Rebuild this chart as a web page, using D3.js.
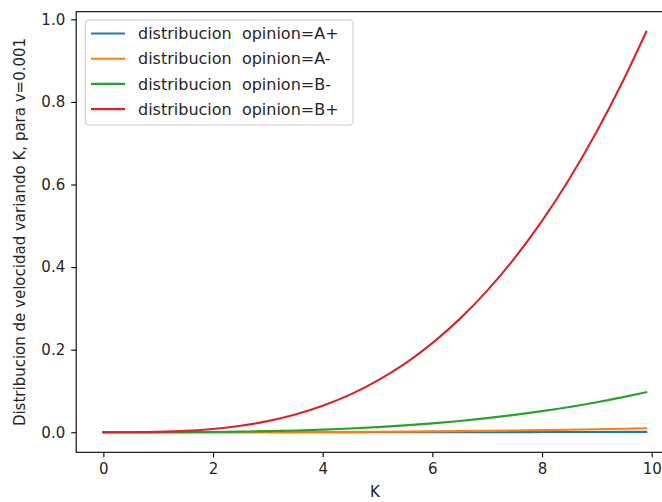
<!DOCTYPE html>
<html>
<head>
<meta charset="utf-8">
<script src="https://cdn.jsdelivr.net/npm/d3@7"></script>
<style>
  html, body { margin: 0; padding: 0; background: #fff; }
  svg { display: block; }
  text { font-family: "DejaVu Sans", sans-serif; fill: #262626; white-space: pre; }
</style>
</head>
<body>
<svg id="chart" width="662" height="502"></svg>
<script>
// K values where each distribution was sampled
const kValues = [0, 0.5, 1, 1.5, 2, 2.5, 3, 3.5, 4, 4.5, 5, 5.5, 6, 6.5, 7, 7.5, 8, 8.5, 9, 9.5, 9.9];

// Distribution values per opinion
const opinionAPlus = [0, 0, 0.000001, 0.000003, 0.000008, 0.000016, 0.000027, 0.000043, 0.000064, 0.000091, 0.000125,
  0.000166, 0.000216, 0.000275, 0.000343, 0.000422, 0.000512, 0.000614, 0.000729, 0.000857, 0.00097];
const opinionAMinus = [0, 0.000001, 0.00001, 0.000034, 0.00008, 0.000156, 0.00027, 0.000429, 0.00064, 0.000911, 0.00125,
  0.00166, 0.00216, 0.002746, 0.00343, 0.004219, 0.00512, 0.006141, 0.00729, 0.008574, 0.0097];
const opinionBMinus = [0, 0.00001, 0.0001, 0.00034, 0.0008, 0.00156, 0.0027, 0.00429, 0.0064, 0.00911, 0.0125,
  0.0166, 0.0216, 0.02746, 0.0343, 0.04219, 0.0512, 0.06141, 0.0729, 0.08574, 0.097];
const opinionBPlus = [0, 0.0001, 0.001, 0.0034, 0.008, 0.0156, 0.027, 0.0429, 0.064, 0.0911, 0.125,
  0.166, 0.216, 0.2746, 0.343, 0.4219, 0.512, 0.6141, 0.729, 0.8574, 0.970];

const seriesNames = ["distribucion  opinion=A+", "distribucion  opinion=A-", "distribucion  opinion=B-", "distribucion  opinion=B+"];
const seriesValues = [opinionAPlus, opinionAMinus, opinionBMinus, opinionBPlus];
const seriesColors = ["#1f77b4", "#ff7f0e", "#2ca02c", "#d62728"];

const xTicks = [0, 2, 4, 6, 8, 10];
const yTicks = [0.0, 0.2, 0.4, 0.6, 0.8, 1.0];

const svg = d3.select("#chart");

// Plot area (right edge extends past the canvas)
const plotLeft = 76.2, plotRight = 673.4, plotTop = 11.7, plotBottom = 452.3;

const x = d3.scaleLinear().domain([-0.495, 10.395]).range([plotLeft, plotRight]);
const y = d3.scaleLinear().domain([-0.0485, 1.0185]).range([plotBottom, plotTop]);

// Series lines
const line = d3.line()
  .x(d => x(d[0]))
  .y(d => y(d[1]))
  .curve(d3.curveMonotoneX);

const plot = svg.append("g");
seriesValues.forEach((vals, i) => {
  plot.append("path")
    .datum(kValues.map((k, j) => [k, vals[j]]))
    .attr("fill", "none")
    .attr("stroke", seriesColors[i])
    .attr("stroke-width", 2.1)
    .attr("stroke-linecap", "square")
    .attr("d", line);
});

// Axes
const xAxis = d3.axisBottom(x).tickValues(xTicks).tickFormat(d3.format("d"))
  .tickSize(5).tickPadding(6);
const yAxis = d3.axisLeft(y).tickValues(yTicks).tickFormat(d3.format(".1f"))
  .tickSize(5).tickPadding(6);

const gx = svg.append("g").attr("transform", `translate(0,${plotBottom})`).call(xAxis);
const gy = svg.append("g").attr("transform", `translate(${plotLeft},0)`).call(yAxis);

[gx, gy].forEach(g => {
  g.select(".domain").remove();
  g.selectAll(".tick line").attr("stroke", "#000").attr("stroke-width", 1.1);
  g.selectAll(".tick text")
    .style("font-family", "DejaVu Sans, sans-serif")
    .style("font-size", "15px")
    .attr("fill", "#262626");
});

// Spines
svg.append("rect")
  .attr("x", plotLeft).attr("y", plotTop)
  .attr("width", plotRight - plotLeft).attr("height", plotBottom - plotTop)
  .attr("fill", "none").attr("stroke", "#000").attr("stroke-width", 1.1);

// Axis titles
svg.append("text")
  .attr("x", (plotLeft + plotRight) / 2)
  .attr("y", 497)
  .attr("text-anchor", "middle")
  .style("font-size", "15px")
  .text("K");

svg.append("text")
  .attr("transform", `translate(25,${(plotTop + plotBottom) / 2}) rotate(-90)`)
  .attr("text-anchor", "middle")
  .style("font-size", "15px")
  .text("Distribucion de velocidad variando K, para v=0.001");

// Legend
const legend = svg.append("g");
legend.append("rect")
  .attr("x", 85.3).attr("y", 20)
  .attr("width", 267.7).attr("height", 105)
  .attr("rx", 3)
  .attr("fill", "#fff").attr("fill-opacity", 0.8)
  .attr("stroke", "#cccccc").attr("stroke-width", 1);

seriesNames.forEach((name, i) => {
  const yy = 33.5 + i * 25.2;
  legend.append("line")
    .attr("x1", 91).attr("x2", 125)
    .attr("y1", yy).attr("y2", yy)
    .attr("stroke", seriesColors[i]).attr("stroke-width", 2.1);
  legend.append("text")
    .attr("x", 138).attr("y", yy + 5.6)
    .attr("xml:space", "preserve")
    .style("font-size", "16px")
    .text(name);
});
</script>
</body>
</html>
